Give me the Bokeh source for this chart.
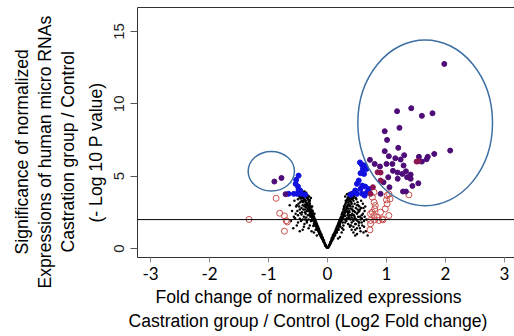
from bokeh.plotting import figure
from bokeh.models import Range1d, LinearAxis, FixedTicker, Span, Title
from bokeh.embed import file_html
from bokeh.resources import INLINE

# ---------------- data ----------------
x_ticks = [-3, -2, -1, 0, 1, 2, 3]
x_tick_labels = ["-3", "-2", "-1", "0", "1", "2", "3"]
y_ticks = [0, 5, 10, 15]
y_tick_labels = ["0", "5", "10", "15"]
p_threshold = 2

# non-significant miRNAs (black dots), left arm
ns_left_x = [-0.02, -0.03, -0.04, -0.05, -0.06, -0.06, -0.07, -0.08, -0.08, -0.09, -0.1, -0.1, -0.11, -0.12,
             -0.12, -0.13, -0.13, -0.14, -0.14, -0.15, -0.15, -0.16, -0.16, -0.17, -0.17, -0.18, -0.18, -0.19,
             -0.19, -0.2, -0.2, -0.21, -0.21, -0.22, -0.22, -0.23, -0.23, -0.24, -0.24, -0.25, -0.25, -0.26,
             -0.26, -0.27, -0.27, -0.28, -0.28, -0.29, -0.29, -0.3, -0.3, -0.31, -0.31, -0.32, -0.32, -0.33,
             -0.33, -0.34, -0.35, -0.35, -0.36, -0.37, -0.37, -0.38, -0.38, -0.39, -0.4, -0.4, -0.41, -0.42,
             -0.43, -0.43, -0.44, -0.45, -0.45, -0.46, -0.47, -0.48, -0.49, -0.5, -0.5, -0.52, -0.53, -0.55,
             -0.56, -0.58, -0.6, -0.62, -0.64, -0.35, -0.3, -0.27, -0.4, -0.47, -0.38, -0.42, -0.24, -0.33,
             -0.2, -0.28, -0.36, -0.44, -0.51, -0.01, -0.04, -0.07, -0.09, -0.11, -0.14, -0.17, -0.19, -0.23,
             -0.03, -0.05, -0.07, -0.09, -0.1, -0.11, -0.13, -0.14, -0.15, -0.17, -0.18, -0.19, -0.2, -0.22,
             -0.23, -0.24, -0.26, -0.27, -0.28, -0.3, -0.31, -0.32, -0.34, -0.35, -0.37, -0.39, -0.41, -0.42,
             -0.44, -0.46, -0.02, -0.04, -0.06, -0.08, -0.11, -0.12, -0.15, -0.16, -0.18, -0.21, -0.22, -0.25,
             -0.26, -0.29, -0.3, -0.33, -0.34, -0.36, -0.38, -0.41,
             -0.28, -0.31, -0.34, -0.37, -0.4, -0.43, -0.46, -0.49, -0.52, -0.3, -0.33, -0.36, -0.39, -0.42,
             -0.45, -0.48, -0.25, -0.29, -0.32, -0.35, -0.38, -0.41, -0.44, -0.47, -0.5, -0.54, -0.57, -0.36,
             -0.39, -0.42, -0.22, -0.26, -0.3, -0.34, -0.38, -0.46, -0.32, -0.27, -0.23, -0.18]
ns_left_y = [0.15, 0.25, 0.3, 0.4, 0.45, 0.55, 0.6, 0.65, 0.75, 0.8, 0.85, 0.95, 1.0, 0.9,
             1.1, 1.05, 1.2, 1.15, 1.3, 1.25, 1.4, 1.35, 1.5, 1.45, 1.6, 1.4, 1.7, 1.55,
             1.8, 1.65, 1.9, 1.75, 2.0, 1.85, 2.1, 1.95, 2.2, 2.05, 2.3, 2.15, 2.45, 2.3,
             2.55, 2.4, 2.7, 2.5, 2.85, 2.6, 2.95, 2.7, 3.1, 2.8, 3.2, 2.9, 3.3, 3.0,
             3.4, 3.1, 3.5, 2.6, 3.2, 3.6, 2.4, 3.3, 3.7, 2.9, 3.45, 2.2, 3.6, 3.0,
             3.75, 2.5, 3.3, 3.9, 1.9, 3.5, 2.7, 3.6, 3.1, 2.3, 3.4, 1.6, 2.9, 2.1,
             3.3, 1.4, 2.6, 1.9, 3.0, 1.9, 1.6, 1.2, 1.5, 1.2, 2.7, 2.0, 1.55, 2.3,
             1.3, 1.9, 3.0, 2.8, 2.6, 0.05, 0.2, 0.5, 0.7, 0.85, 1.0, 1.3, 1.5, 1.7,
             0.2, 0.35, 0.5, 0.7, 0.75, 0.9, 1.0, 1.1, 1.2, 1.3, 1.5, 1.6, 1.75, 1.8,
             2.0, 2.1, 2.2, 2.35, 2.45, 2.55, 2.75, 2.8, 3.0, 3.1, 3.3, 3.4, 3.3, 3.5,
             3.6, 3.7, 0.1, 0.25, 0.45, 0.6, 0.8, 1.0, 1.15, 1.25, 1.35, 1.6, 1.7, 1.95,
             2.05, 2.3, 2.4, 2.6, 2.75, 2.85, 3.05, 3.2,
             3.5, 3.6, 3.7, 3.8, 3.9, 3.5, 3.2, 3.7, 3.0, 3.3, 3.55, 3.85, 3.95, 3.25,
             3.45, 2.9, 2.6, 2.2, 2.0, 1.8, 2.5, 2.7, 2.35, 2.05, 1.8, 2.4, 2.2, 2.15,
             1.7, 1.3, 2.4, 2.9, 3.35, 3.65, 2.0, 2.45, 1.4, 1.9, 1.1, 0.9]

# non-significant miRNAs (black dots), right arm
ns_right_x = [0.02, 0.03, 0.04, 0.05, 0.05, 0.06, 0.07, 0.07, 0.08, 0.09, 0.09, 0.1, 0.11, 0.11, 0.12,
              0.12, 0.13, 0.13, 0.14, 0.14, 0.15, 0.15, 0.16, 0.16, 0.17, 0.17, 0.18, 0.18, 0.19, 0.19,
              0.2, 0.2, 0.21, 0.21, 0.22, 0.22, 0.23, 0.23, 0.24, 0.24, 0.25, 0.25, 0.26, 0.26, 0.27,
              0.27, 0.28, 0.28, 0.29, 0.29, 0.3, 0.3, 0.31, 0.31, 0.32, 0.32, 0.33, 0.33, 0.34, 0.34,
              0.35, 0.35, 0.36, 0.36, 0.37, 0.37, 0.38, 0.38, 0.39, 0.39, 0.4, 0.4, 0.41, 0.41, 0.42,
              0.42, 0.43, 0.44, 0.44, 0.45, 0.46, 0.46, 0.47, 0.48, 0.49, 0.5, 0.5, 0.51, 0.52, 0.53,
              0.54, 0.55, 0.56, 0.57, 0.58, 0.6, 0.62, 0.64, 0.66, 0.68, 0.3, 0.35, 0.27, 0.33, 0.38,
              0.43, 0.47, 0.25, 0.4, 0.45, 0.36, 0.31, 0.52, 0.01, 0.04, 0.06, 0.08, 0.1, 0.13, 0.16,
              0.19, 0.22, 0.26, 0.29, 0.34, 0.37, 0.41, 0.48, 0.55, 0.61,
              0.03, 0.05, 0.07, 0.08, 0.1, 0.12, 0.13, 0.14, 0.16, 0.17, 0.19, 0.2, 0.22, 0.23,
              0.25, 0.26, 0.28, 0.29, 0.31, 0.32, 0.34, 0.35, 0.37, 0.38, 0.4, 0.42, 0.44, 0.02,
              0.04, 0.06, 0.09, 0.11, 0.13, 0.15, 0.18, 0.2, 0.21, 0.24, 0.27, 0.3, 0.33, 0.36,
              0.39, 0.42, 0.45, 0.48, 0.51, 0.54, 0.58, 0.63,
              0.3, 0.33, 0.36, 0.39, 0.42, 0.45, 0.48, 0.51, 0.54, 0.57, 0.6, 0.63, 0.32, 0.35,
              0.38, 0.41, 0.44, 0.47, 0.5, 0.53, 0.56, 0.59, 0.62, 0.65, 0.28, 0.31, 0.34, 0.37,
              0.4, 0.43, 0.46, 0.49, 0.52, 0.55, 0.58, 0.61, 0.24, 0.27, 0.21, 0.18, 0.44, 0.47,
              0.5, 0.38, 0.41]
ns_right_y = [0.1, 0.2, 0.3, 0.35, 0.45, 0.5, 0.6, 0.7, 0.75, 0.8, 0.9, 0.95, 1.0, 0.85, 1.1,
              0.95, 1.2, 1.05, 1.3, 1.15, 1.4, 1.2, 1.5, 1.3, 1.6, 1.4, 1.7, 1.45, 1.8, 1.55,
              1.9, 1.6, 2.0, 1.7, 2.1, 1.8, 2.2, 1.9, 2.35, 1.95, 2.45, 2.05, 2.55, 2.15, 2.7,
              2.25, 2.8, 2.3, 2.95, 2.4, 3.05, 2.5, 3.15, 2.6, 3.25, 2.7, 3.35, 2.8, 3.45, 2.9,
              3.55, 3.0, 3.1, 2.2, 3.4, 2.6, 3.65, 3.0, 3.3, 2.0, 3.5, 2.75, 3.1, 1.8, 3.6,
              2.4, 2.9, 3.3, 1.5, 2.6, 3.1, 2.1, 1.3, 2.8, 3.4, 1.0, 2.4, 1.9, 3.0, 1.6,
              2.6, 2.2, 1.2, 2.8, 1.8, 2.4, 1.5, 2.9, 2.0, 0.9, 1.8, 2.4, 1.6, 2.1, 2.3,
              2.0, 2.5, 1.4, 1.6, 3.6, 3.7, 2.0, 2.2, 0.05, 0.25, 0.4, 0.55, 0.7, 0.9, 1.1,
              1.3, 1.5, 1.8, 2.0, 2.3, 2.5, 2.3, 1.7, 1.4, 1.1,
              0.25, 0.4, 0.55, 0.65, 0.8, 0.95, 1.0, 1.1, 1.25, 1.35, 1.5, 1.7, 1.85, 2.0,
              2.1, 2.3, 2.4, 2.6, 2.7, 2.85, 3.0, 3.2, 3.3, 3.5, 3.2, 3.4, 3.5, 0.15,
              0.3, 0.45, 0.7, 0.9, 1.1, 1.2, 1.4, 1.75, 1.65, 2.0, 2.2, 2.25, 2.6, 2.75,
              2.9, 2.7, 2.3, 2.0, 2.7, 1.8, 2.1, 2.6,
              3.6, 3.75, 3.8, 3.85, 3.9, 3.7, 3.5, 3.2, 2.9, 3.3, 3.1, 2.2, 1.9, 1.7,
              1.5, 1.3, 1.1, 0.9, 1.4, 1.8, 2.0, 1.6, 1.9, 1.2, 2.9, 3.3, 2.5, 2.1,
              2.3, 2.6, 2.2, 2.0, 2.5, 2.7, 2.3, 2.8, 1.1, 1.3, 0.8, 0.7, 1.9, 1.7,
              3.0, 1.6, 2.15]

# significant, small fold change (blue filled)
blue_x = [-0.49, -0.53, -0.54, -0.50, -0.49, -0.66, -0.57, -0.51, -0.44, -0.38, -0.46,
          0.58, 0.63, 0.60, 0.56, 0.62, 0.53, 0.50, 0.59, 0.64, 0.56, 0.47, 0.42, 0.39,
          0.50, 0.59, 0.63, 0.67, 0.70, 0.55, 0.66]
blue_y = [5.04, 4.75, 4.47, 4.28, 4.06, 3.78, 3.78, 3.78, 3.78, 3.71, 4.0,
          5.81, 5.74, 5.51, 5.21, 5.16, 4.70, 4.47, 4.35, 4.28, 4.12, 4.01, 3.78, 3.71,
          3.78, 3.78, 3.66, 3.89, 4.12, 5.95, 5.50]

# significant, large fold change (purple filled)
purple_x = [-0.90, -0.78, -0.71,
            1.98, 1.18, 1.42, 1.60, 1.78, 1.22, 0.97, 1.01, 1.20, 2.08, 0.97, 1.04, 1.15,
            1.24, 1.30, 1.55, 1.70, 1.81, 1.60, 1.68, 0.72, 0.80, 0.89, 1.00, 1.10, 1.29,
            1.11, 1.19, 1.27, 1.33, 1.41, 1.35, 1.03, 1.19, 1.41, 0.95, 1.54, 1.44, 1.05,
            1.28, 1.33, 0.90]
purple_y = [4.63, 4.88, 3.76,
            12.76, 9.49, 9.70, 9.17, 9.35, 8.34, 8.11, 7.51, 6.96, 6.77, 6.73, 6.38, 6.24,
            6.15, 6.45, 6.34, 6.34, 6.54, 6.01, 6.17, 6.13, 5.85, 5.67, 5.85, 5.85, 5.74,
            5.37, 5.25, 5.16, 5.34, 5.11, 4.93, 4.93, 4.82, 4.82, 4.58, 4.51, 4.33, 4.24,
            3.94, 3.94, 3.78]

# significant, large fold change (reddish purple filled)
maroon_x = [1.51, 1.54, 0.85, 0.90, 0.90, 0.77, 0.73]
maroon_y = [6.01, 6.03, 5.27, 5.25, 4.70, 4.24, 3.78]

# fold change above threshold, lower significance (red open circles)
red_x = [-0.87, -0.81, -0.73, -0.70, -0.68, -0.73, -1.33,
         0.76, 0.79, 0.81, 0.80, 0.76, 0.79, 0.84, 0.90, 1.00, 1.01, 1.04, 0.98, 1.04,
         0.94, 0.87, 0.80, 0.73, 0.72, 1.38, 0.73, 0.73, 0.93, 0.79, 1.01, 1.06]
red_y = [3.47, 2.44, 2.26, 1.92, 1.84, 1.20, 2.01,
         3.55, 3.20, 2.97, 2.74, 2.51, 2.28, 2.16, 2.51, 3.36, 3.09, 3.78, 2.74, 2.28,
         1.98, 1.94, 1.98, 1.94, 1.29, 3.71, 2.40, 1.71, 2.05, 3.89, 3.66, 3.43]

# highlight ellipses (centre x, centre y, width, height in data units)
ell_x = [1.656, -0.952]
ell_y = [8.69, 5.34]
ell_w = [2.283, 0.785]
ell_h = [11.45, 2.74]

x_title_lines = ["Fold change of normalized expressions",
                 "Castration group / Control (Log2 Fold change)"]
y_title_lines = ["Significance of normalized",
                 "Expressions of human micro RNAs",
                 "Castration group / Control",
                 "(- Log 10 P value)"]

# ---------------- figure ----------------
p = figure(width=514, height=336, output_backend="svg", toolbar_location=None,
           x_range=Range1d(-3.22, 3.17), y_range=Range1d(-0.62, 16.66),
           min_border_left=137, min_border_right=0, min_border_top=7, min_border_bottom=79)
p.xgrid.visible = False
p.ygrid.visible = False
p.outline_line_color = None
p.background_fill_color = "white"
p.border_fill_color = "white"

xa = p.xaxis[0]
xa.ticker = FixedTicker(ticks=x_ticks)
xa.major_label_overrides = {t: l for t, l in zip(x_ticks, x_tick_labels)}
xa.minor_tick_line_color = None
xa.major_tick_in = 0
xa.major_tick_out = 5
xa.major_tick_line_color = "#888888"
xa.axis_line_color = "#333333"
xa.major_label_text_font = "Lato"
xa.major_label_text_font_size = "17px"
xa.major_label_text_color = "black"
xa.major_label_standoff = 4

ya = p.yaxis[0]
ya.ticker = FixedTicker(ticks=y_ticks)
ya.major_label_overrides = {t: l for t, l in zip(y_ticks, y_tick_labels)}
ya.minor_tick_line_color = None
ya.major_tick_in = 0
ya.major_tick_out = 7
ya.major_tick_line_color = "#555555"
ya.axis_line_color = "#333333"
ya.major_label_orientation = "vertical"
ya.major_label_text_font = "Liberation Sans"
ya.major_label_text_font_size = "15px"
ya.major_label_text_color = "#222222"
ya.major_label_standoff = 6

top = LinearAxis(ticker=FixedTicker(ticks=[]), major_tick_out=0, major_tick_in=0,
                 minor_tick_line_color=None, major_label_text_font_size="0px",
                 major_label_standoff=0, axis_line_color="#333333")
p.add_layout(top, "above")

# axis titles: stacked titles, innermost first
y_offsets = [3, -31, 5, 35]
y_standoffs = [1, 1, 1, 11]
for i in [3, 2, 1, 0]:
    p.add_layout(Title(text=y_title_lines[i], align="left", offset=y_offsets[i],
                       standoff=y_standoffs[i],
                       text_font="Liberation Sans", text_font_size="17.6px",
                       text_font_style="normal", text_color="black"), "left")
x_offsets = [18, -9]
x_standoffs = [4, 1]
for i in [0, 1]:
    p.add_layout(Title(text=x_title_lines[i], align="left", offset=x_offsets[i],
                       standoff=x_standoffs[i],
                       text_font="Liberation Sans", text_font_size="17.6px",
                       text_font_style="normal", text_color="black"), "below")

p.add_layout(Span(location=p_threshold, dimension="width", line_color="black", line_width=1))

p.scatter(ns_left_x, ns_left_y, marker="circle", size=2.5, color="black", line_width=0)
p.scatter(ns_right_x, ns_right_y, marker="circle", size=2.5, color="black", line_width=0)
p.scatter(red_x, red_y, marker="circle", size=6, fill_color=None, line_color="#c8504c", line_width=1)
p.scatter(blue_x, blue_y, marker="circle", size=5, fill_color="#1010e0", line_color="#1010e0")
p.scatter(purple_x, purple_y, marker="circle", size=5, fill_color="#4e0c78", line_color="#4e0c78")
p.scatter(maroon_x, maroon_y, marker="circle", size=5, fill_color="#8c1450", line_color="#8c1450")

p.ellipse(x=ell_x, y=ell_y, width=ell_w, height=ell_h, fill_color=None,
          line_color="#3d6fa3", line_width=1.5)

open("out.html", "w").write(file_html(p, INLINE))
